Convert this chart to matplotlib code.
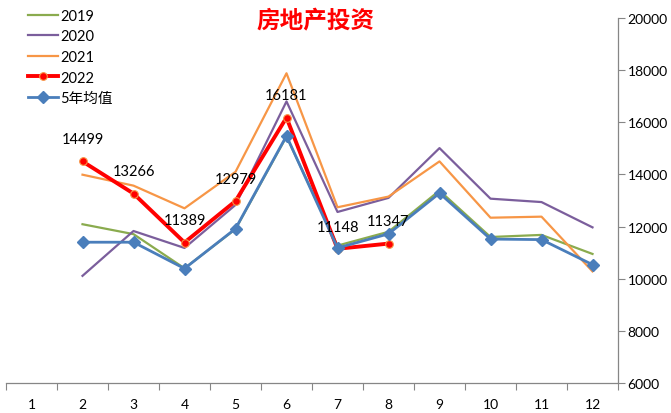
import numpy as np
import matplotlib
matplotlib.use("Agg")
import matplotlib.pyplot as plt

plt.rcParams['font.family'] = ['Lato', 'Noto Sans CJK SC', 'DejaVu Sans']

months = list(range(1, 13))
nan = np.nan
y2019 = [nan, 12090, 11710, 10400, 11900, 15450, 11270, 11800, 13380, 11600, 11680, 10950]
y2020 = [nan, 10110, 11830, 11180, 12830, 16800, 12560, 13100, 15010, 13070, 12940, 11970]
y2021 = [nan, 13990, 13570, 12700, 14100, 17880, 12740, 13150, 14500, 12340, 12380, 10280]
y2022 = [nan, 14499, 13266, 11389, 12979, 16181, 11148, 11347, nan, nan, nan, nan]
avg5 = [nan, 11400, 11400, 10390, 11920, 15480, 11180, 11720, 13280, 11520, 11500, 10540]

title = "房地产投资"
yticks = [6000, 8000, 10000, 12000, 14000, 16000, 18000, 20000]

fig = plt.figure(figsize=(6.71, 4.14), dpi=100)
ax = fig.add_axes([6 / 671, 1 - 384 / 414, 612 / 671, 365 / 414])

ax.plot(months, y2019, color='#8AAB4E', lw=1.6, label='2019')
ax.plot(months, y2020, color='#7B5E9C', lw=1.6, label='2020')
ax.plot(months, y2021, color='#F79646', lw=1.6, label='2021')
ax.plot(months, y2022, color='#FF0000', lw=2.8, marker='o', ms=5.5,
        mfc='#FF0000', mec='#F79646', mew=0.8, label='2022')
ax.plot(months, avg5, color='#4A7EBB', lw=2.0, marker='D', ms=6.5,
        mfc='#4A7EBB', mec='#4A7EBB', label='5年均值')

for m, v in zip(months, y2022):
    if not np.isnan(v):
        ax.annotate(f"{int(v)}", (m, v), xytext=(0, 11), textcoords='offset points',
                    ha='center', va='bottom', fontsize=10.5, color='#000000')

ax.set_xlim(0.5, 12.5)
ax.set_ylim(6000, 20000)

ax.set_xticks(months)
ax.set_xticklabels([str(m) for m in months])
ax.set_xticks(np.arange(0.5, 13, 1), minor=True)
ax.tick_params(axis='x', which='major', length=0, pad=11, labelsize=10, labelcolor='#000000')
ax.tick_params(axis='x', which='minor', length=5, width=0.8, color='#868686', direction='out')

ax.yaxis.tick_right()
ax.set_yticks(yticks)
ax.set_yticklabels([str(t) for t in yticks])
ax.tick_params(axis='y', which='major', length=5, width=0.8, color='#868686',
               direction='out', pad=2, labelsize=10, labelcolor='#000000')

for side in ('left', 'top'):
    ax.spines[side].set_visible(False)
for side in ('right', 'bottom'):
    ax.spines[side].set_color('#868686')
    ax.spines[side].set_linewidth(0.9)

leg = ax.legend(loc='upper left', bbox_to_anchor=(0.028, 1.037), frameon=False,
                fontsize=10.5, handlelength=2.1, handletextpad=0.15,
                labelspacing=0.45, borderaxespad=0.0, borderpad=0.3)

fig.text(316 / 671, 1 - 21 / 414, title, ha='center', va='center',
         fontsize=17, color='#FF0000', fontweight='bold',
         family=['Noto Sans CJK SC'])

fig.savefig('out.png', dpi=100)
